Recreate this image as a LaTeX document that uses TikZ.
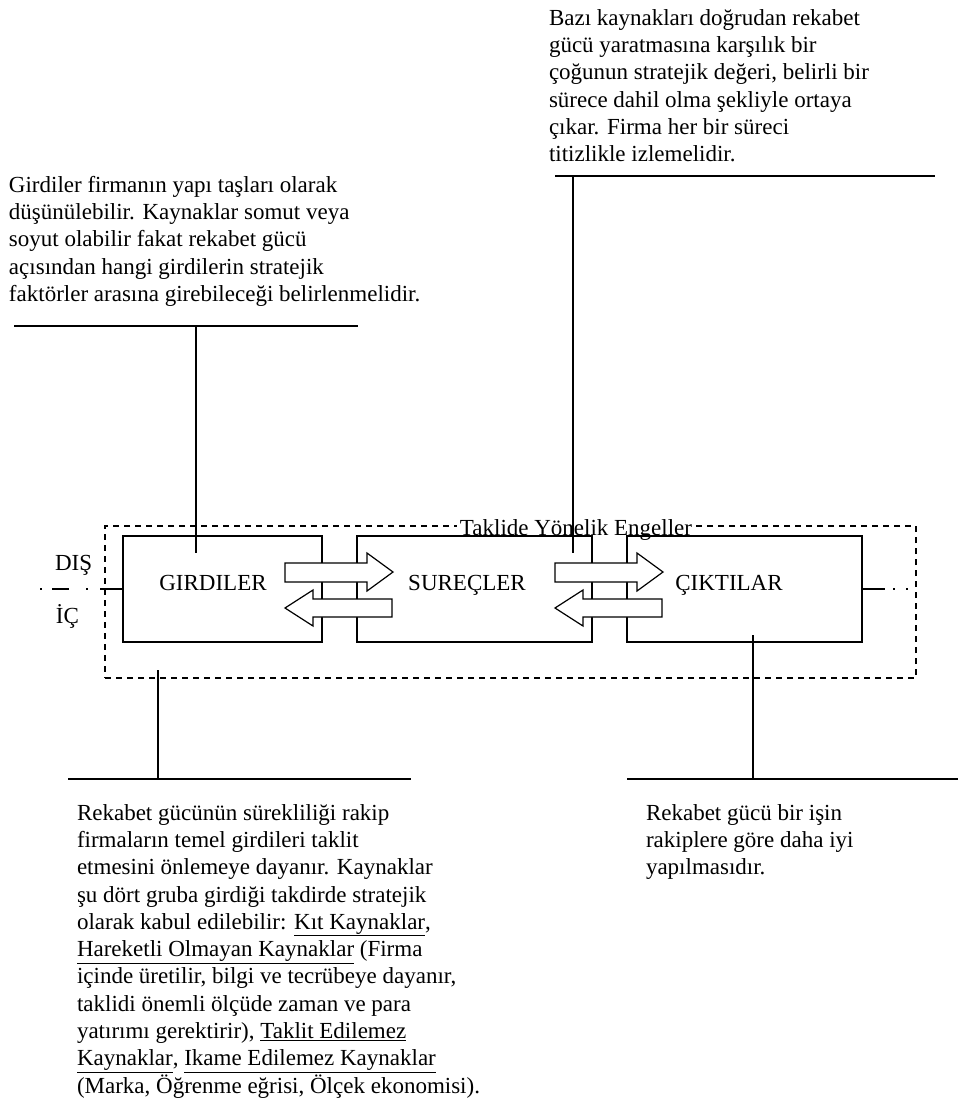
\documentclass[tikz,border=0pt]{standalone}
\usepackage{fontspec}
\setmainfont{Liberation Serif}
\begin{document}
\begin{tikzpicture}[x=1pt,y=-1pt,line width=1.4pt,
  txt/.style={font=\fontsize{23}{27.3}\selectfont, inner sep=0pt, outer sep=0pt, align=left, anchor=north west},
  lbl/.style={font=\fontsize{23}{27.3}\selectfont, inner sep=0pt, outer sep=0pt, anchor=base},
  stage/.style={draw, minimum width=#1, minimum height=106pt, inner sep=0pt, outer sep=0pt, anchor=north west},
  barrier/.style={draw, dash pattern=on 6pt off 5pt, minimum width=811pt, minimum height=152pt, inner sep=0pt, outer sep=0pt, anchor=north west},
  fatarrow/.style={draw, fill=white, line width=1.2pt, line join=miter},
  callout/.style={draw, line width=1.4pt}]
\useasboundingbox (0,0) rectangle (958,1104);

% dashed frame: barriers to imitation
\node[barrier] (frame) at (105,526) {};
\node[lbl, fill=white, inner xsep=3pt] (framelbl) at (576,535) {Taklide Yönelik Engeller};

% the three stages
\node[stage=199pt] (inp) at (123,536) {};
\node[stage=235pt] (proc) at (357,536) {};
\node[stage=235pt] (out) at (627,536) {};

% outside / inside boundary
\coordinate (bl0) at (40,589);
\coordinate (bl1) at (100,589);
\draw[dash pattern=on 2pt off 10pt on 17pt off 17pt on 2pt off 20pt] (bl0) -- (bl1);
\draw (bl1) -- (inp.west);
\coordinate (br1) at (885,589);
\coordinate (br2) at (893,589);
\coordinate (br3) at (912,589);
\draw (out.east) -- (br1);
\draw[dash pattern=on 2pt off 11pt] (br2) -- (br3);
\node[lbl, anchor=base west] (dis) at (55,570) {DIŞ};
\node[lbl, anchor=base west] (ic) at (56,623) {İÇ};

% callout lines
\coordinate (c1a) at (14,326);  \coordinate (c1b) at (358,326);
\coordinate (c1t) at (196,326); \coordinate (c1e) at (196,553);
\draw[callout] (c1a) -- (c1b);
\draw[callout] (c1t) -- (c1e);

\coordinate (c2a) at (555,176); \coordinate (c2b) at (935,176);
\coordinate (c2t) at (573,176); \coordinate (c2e) at (573,553);
\draw[callout] (c2a) -- (c2b);
\draw[callout] (c2t) -- (c2e);

\coordinate (c3a) at (68,779);  \coordinate (c3b) at (411,779);
\coordinate (c3t) at (158,779); \coordinate (c3e) at (158,670);
\draw[callout] (c3a) -- (c3b);
\draw[callout] (c3t) -- (c3e);

\coordinate (c4a) at (627,779); \coordinate (c4b) at (958,779);
\coordinate (c4t) at (753,779); \coordinate (c4e) at (753,635);
\draw[callout] (c4a) -- (c4b);
\draw[callout] (c4t) -- (c4e);

% two-way flow arrows between stages
\foreach \dx in {0,270}{
  \draw[fatarrow] (285+\dx,563) -- (367+\dx,563) -- (367+\dx,553) -- (393+\dx,572)
    -- (367+\dx,591) -- (367+\dx,582) -- (285+\dx,582) -- cycle;
  \draw[fatarrow] (392+\dx,599) -- (313+\dx,599) -- (313+\dx,590) -- (285+\dx,608)
    -- (313+\dx,626) -- (313+\dx,617) -- (392+\dx,617) -- cycle;
}

% stage labels
\node[lbl] (inptxt) at (213,590) {GIRDILER};
\node[lbl] (proctxt) at (467,590) {SUREÇLER};
\node[lbl] (outtxt) at (729,590) {ÇIKTILAR};

% explanatory texts
\node[txt] (tinp) at (9,173) {\strut Girdiler firmanın yapı taşları olarak\\
düşünülebilir. Kaynaklar somut veya\\
soyut olabilir fakat rekabet gücü\\
açısından hangi girdilerin stratejik\\
faktörler arasına girebileceği belirlenmelidir.};

\node[txt] (tproc) at (549,6) {\strut Bazı kaynakları doğrudan rekabet\\
gücü yaratmasına karşılık bir\\
çoğunun stratejik değeri, belirli bir\\
sürece dahil olma şekliyle ortaya\\
çıkar. Firma her bir süreci\\
titizlikle izlemelidir.};

\node[txt] (tbar) at (77,801) {\strut Rekabet gücünün sürekliliği rakip\\
firmaların temel girdileri taklit\\
etmesini önlemeye dayanır. Kaynaklar\\
şu dört gruba girdiği takdirde stratejik\\
olarak kabul edilebilir: \underline{Kıt Kaynaklar},\\
\underline{Hareketli Olmayan Kaynaklar} (Firma\\
içinde üretilir, bilgi ve tecrübeye dayanır,\\
taklidi önemli ölçüde zaman ve para\\
yatırımı gerektirir), \underline{Taklit Edilemez}\\
\underline{Kaynaklar}, \underline{Ikame Edilemez Kaynaklar}\\
(Marka, Öğrenme eğrisi, Ölçek ekonomisi).};

\node[txt] (tout) at (646,801) {\strut Rekabet gücü bir işin\\
rakiplere göre daha iyi\\
yapılmasıdır.};
\end{tikzpicture}
\end{document}
